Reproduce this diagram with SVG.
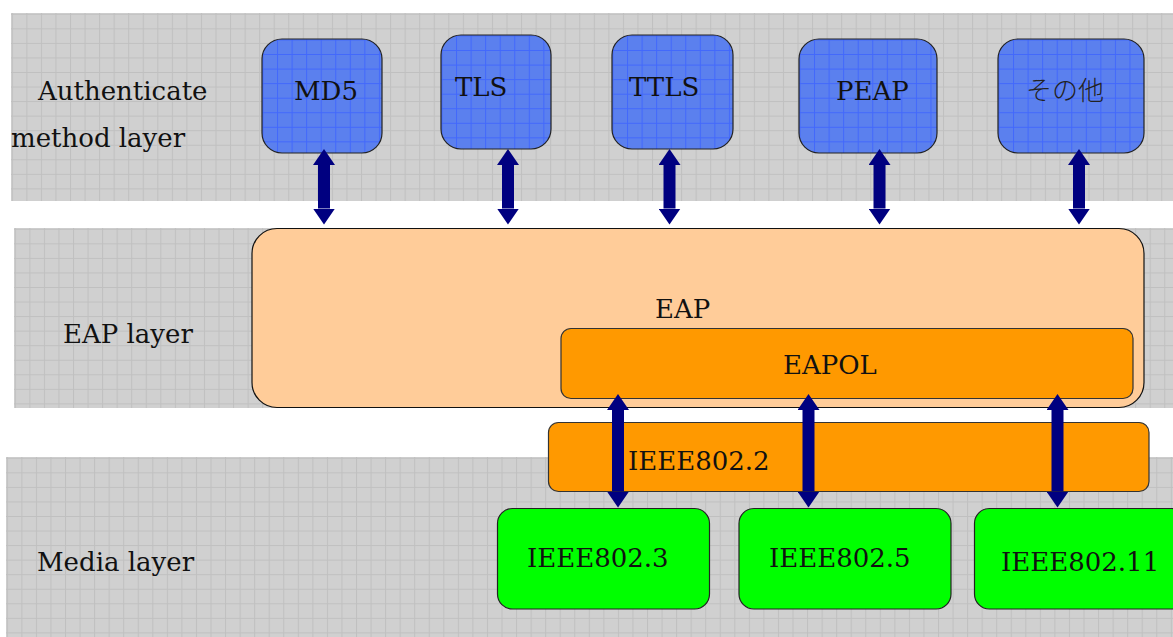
<svg xmlns="http://www.w3.org/2000/svg" width="1173" height="637" viewBox="0 0 1173 637">
  <defs>
    <style>
      .lbl { font-family: "DejaVu Serif", "Liberation Serif", serif; font-size: 26px; fill: #111; }
      .jp { font-family: "Noto Sans CJK JP", sans-serif; font-size: 26px; font-weight: 300; fill: #222; }
      .method { stroke: #222; stroke-width: 1.2; fill: url(#blueGrid); }
      .eap { fill: #ffcc99; stroke: #111; stroke-width: 1.2; }
      .eapol { fill: #ff9900; stroke: #333; stroke-width: 1.2; }
      .media { fill: #00ff00; stroke: #222; stroke-width: 1.2; }
      .band { fill: url(#bandGrid); }
      .link { stroke: #000080; stroke-width: 12; fill: none; marker-start: url(#head); marker-end: url(#head); }
    </style>
    <!-- light grey squared paper used for the layer bands -->
    <pattern id="bandGrid" patternUnits="userSpaceOnUse" width="14.55" height="14.55" x="0.8" y="0.8">
      <rect width="14.55" height="14.55" fill="#d0d0d0"/>
      <path d="M0 0.5H14.55M0.5 0V14.55" stroke="#c0c0c0" stroke-width="1"/>
    </pattern>
    <!-- blue squared fill for the method boxes -->
    <pattern id="blueGrid" patternUnits="userSpaceOnUse" width="14.55" height="14.55" x="0.5" y="0.5">
      <rect width="14.55" height="14.55" fill="#5b80ee"/>
      <path d="M0 0.5H14.55M0.5 0V14.55" stroke="#4268fc" stroke-width="1"/>
    </pattern>
    <marker id="head" viewBox="0 0 16 22" refX="0" refY="11" markerWidth="16" markerHeight="22" markerUnits="userSpaceOnUse" orient="auto-start-reverse">
      <path d="M0 0L16 11L0 22Z" fill="#000080"/>
    </marker>
  </defs>

  <rect width="1173" height="637" fill="#ffffff"/>

  <!-- layer bands -->
  <g id="band-auth" transform="translate(11,13)">
    <rect class="band" width="1162" height="188"/>
    <text class="lbl" x="27" y="87">Authenticate</text>
    <text class="lbl" x="0" y="134">method layer</text>
  </g>
  <g id="band-eap" transform="translate(14,228)">
    <rect class="band" width="1159" height="180"/>
    <text class="lbl" x="49" y="115">EAP layer</text>
  </g>
  <g id="band-media" transform="translate(6,457)">
    <rect class="band" width="1167" height="180"/>
    <text class="lbl" x="31" y="114">Media layer</text>
  </g>

  <!-- EAP and its encapsulation -->
  <g id="eap">
    <rect class="eap" x="252" y="228.5" width="892" height="179" rx="25"/>
    <text class="lbl" x="655" y="318">EAP</text>
  </g>
  <g id="eapol">
    <rect class="eapol" x="561" y="328.5" width="572" height="70" rx="10"/>
    <text class="lbl" x="783" y="374">EAPOL</text>
  </g>
  <g id="ieee802-2">
    <rect class="eapol" x="548.5" y="422.5" width="600.5" height="69" rx="10"/>
    <text class="lbl" x="628" y="470">IEEE802.2</text>
  </g>

  <!-- media -->
  <g id="ieee802-3">
    <rect class="media" x="497.5" y="508.5" width="212" height="100.5" rx="15"/>
    <text class="lbl" x="527" y="567">IEEE802.3</text>
  </g>
  <g id="ieee802-5">
    <rect class="media" x="739" y="508.5" width="212" height="100.5" rx="15"/>
    <text class="lbl" x="769" y="567">IEEE802.5</text>
  </g>
  <g id="ieee802-11">
    <rect class="media" x="974.5" y="508.5" width="212" height="100.5" rx="15"/>
    <text class="lbl" x="1001" y="571">IEEE802.11</text>
  </g>

  <!-- authentication methods -->
  <g id="md5" transform="translate(262,39)">
    <rect class="method" width="120" height="114" rx="20"/>
    <text class="lbl" x="32" y="61">MD5</text>
  </g>
  <g id="tls" transform="translate(441,35)">
    <rect class="method" width="110" height="114" rx="20"/>
    <text class="lbl" x="14" y="61">TLS</text>
  </g>
  <g id="ttls" transform="translate(612,35)">
    <rect class="method" width="121" height="114" rx="20"/>
    <text class="lbl" x="17" y="61">TTLS</text>
  </g>
  <g id="peap" transform="translate(799,39)">
    <rect class="method" width="138" height="114" rx="20"/>
    <text class="lbl" x="37" y="61">PEAP</text>
  </g>
  <g id="other" transform="translate(998,39)">
    <rect class="method" width="146" height="114" rx="20"/>
    <text class="jp" x="28" y="61">その他</text>
  </g>

  <!-- two-way links between layers -->
  <g id="connectors">
    <line class="link" x1="324" y1="165" x2="324" y2="208.5"/>
    <line class="link" x1="508" y1="165" x2="508" y2="208.5"/>
    <line class="link" x1="669.5" y1="165" x2="669.5" y2="208.5"/>
    <line class="link" x1="879.5" y1="165" x2="879.5" y2="208.5"/>
    <line class="link" x1="1079" y1="165" x2="1079" y2="208.5"/>
    <line class="link" x1="618" y1="410" x2="618" y2="491.5"/>
    <line class="link" x1="808.5" y1="410" x2="808.5" y2="491.5"/>
    <line class="link" x1="1057.5" y1="410" x2="1057.5" y2="491.5"/>
  </g>
</svg>
